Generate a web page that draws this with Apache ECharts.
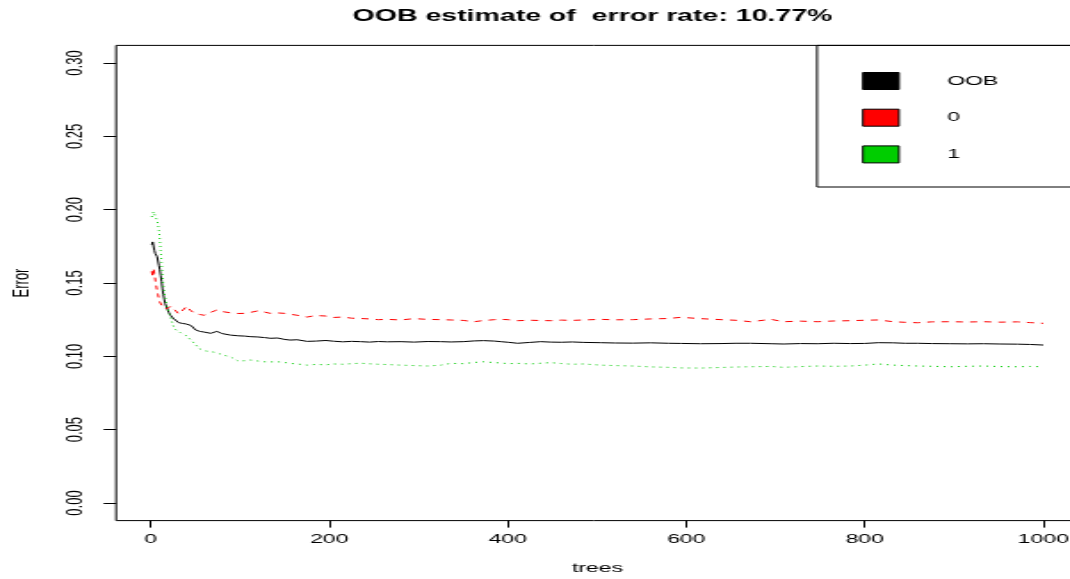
<!DOCTYPE html>
<html>
<head>
<meta charset="utf-8">
<script src="https://cdn.jsdelivr.net/npm/echarts@6/dist/echarts.min.js"></script>
<style>
  html, body { margin: 0; padding: 0; background: #fff; overflow: hidden; }
  /* the plot is laid out on a narrower device and widened horizontally */
  #chart { width: 601px; height: 579px; transform: scaleX(1.7804); transform-origin: 0 0; }
</style>
</head>
<body>
<div id="chart"></div>
<script>
// Number of trees at which the error rates are sampled
const trees = [1,2,3,4,5,6,7,8,9,10,11,12,13,14,15,16,18,20,22,25,28,31,35,40,45,50,55,60,67,74,80,89,98,105,112,120,127,134,142,150,156,164,175,185,196,205,215,225,235,245,255,265,280,295,310,325,336,350,362,373,385,392,400,411,425,437,448,460,472,485,504,520,540,560,580,594,616,639,655,672,695,709,728,747,765,784,800,815,832,845,859,875,896,915,933,952,971,985,1000];

// Out-of-bag error rate
const errOOB = [.176,.178,.177,.172,.170,.169,.168,.165,.162,.159,.155,.151,.146,.142,.139,.136,.133,.130,.128,.126,.125,.123,.1225,.122,.121,.118,.117,.1165,.1157,.117,.1155,.1145,.114,.1138,.1134,.1132,.1128,.1123,.1125,.1115,.1111,.1113,.1102,.1104,.1108,.1103,.1099,.1102,.1100,.1097,.1101,.1099,.1100,.1097,.1101,.1100,.1098,.1100,.1105,.1107,.1104,.1100,.1096,.1089,.1095,.1100,.1097,.1096,.1098,.1095,.1093,.1091,.1090,.1092,.1089,.1088,.1086,.1087,.1089,.1089,.1086,.1084,.1087,.1086,.1089,.1087,.1088,.1093,.1092,.1089,.1089,.1087,.1086,.1085,.1086,.1084,.1083,.1081,.1077];

// Class "0" error rate
const err0 = [.158,.154,.160,.156,.152,.148,.145,.142,.1395,.137,.136,.135,.134,.133,.1335,.133,.1325,.133,.134,.134,.131,.129,.131,.134,.131,.129,.1285,.128,.130,.1316,.1305,.1297,.1292,.1293,.1300,.1310,.1302,.1293,.1296,.1293,.1287,.1280,.1268,.1278,.1275,.1265,.1268,.1260,.1258,.1255,.1250,.1252,.1248,.1257,.1252,.1250,.1248,.1245,.1236,.1244,.1250,.1252,.1250,.1243,.1246,.1244,.1243,.1247,.1245,.1248,.1252,.1249,.1250,.1255,.1258,.1266,.1257,.1250,.1246,.1236,.1252,.1236,.1240,.1236,.1241,.1243,.1246,.1248,.1236,.1232,.1229,.1235,.1236,.1234,.1236,.1233,.1235,.1230,.1225];

// Class "1" error rate
const err1 = [.195,.197,.1986,.197,.195,.194,.193,.190,.186,.180,.172,.164,.155,.1485,.144,.1407,.134,.130,.127,.121,.118,.1168,.1155,.114,.111,.108,.105,.1038,.1032,.1025,.101,.0997,.0968,.0970,.0975,.0968,.0963,.0962,.0963,.0958,.0952,.0948,.0940,.0945,.0942,.0948,.0946,.0950,.0953,.0949,.0946,.0944,.0940,.0937,.0934,.0940,.0952,.0950,.0958,.0963,.0957,.0955,.0950,.0952,.0948,.0953,.0957,.0951,.0946,.0948,.0940,.0937,.0934,.0928,.0925,.0921,.0920,.0924,.0927,.0929,.0931,.0925,.0930,.0934,.0932,.0934,.0940,.0948,.0940,.0937,.0934,.0932,.0929,.0932,.0934,.0930,.0929,.0931,.0929];

const xTicks = [0, 200, 400, 600, 800, 1000];
const yTicks = [0, 0.05, 0.10, 0.15, 0.20, 0.25, 0.30];
const seriesNames = ['OOB', '0', '1'];
const titleText = 'OOB estimate of  error rate: 10.77%';

const FONT = '"Liberation Sans", Arial, sans-serif';
const pairs = (ys) => trees.map((t, i) => [t, ys[i]]);

const chart = echarts.init(document.getElementById('chart'), null, { renderer: 'canvas' });
chart.setOption({
  animation: false,
  backgroundColor: '#fff',
  textStyle: { fontFamily: FONT },
  grid: {
    left: 65.2, right: -5, top: 45.4, bottom: 58.4,
    outerBoundsMode: 'none', containLabel: false,
    show: true, borderColor: '#000', borderWidth: 1, backgroundColor: 'transparent'
  },
  xAxis: {
    type: 'value', min: -38.96, max: 1039.96,
    name: 'trees', nameLocation: 'middle', nameGap: 41,
    nameTextStyle: { fontFamily: FONT, fontSize: 13, color: '#000' },
    axisLine: { show: false, onZero: false },
    axisTick: { show: true, customValues: xTicks, length: 7, lineStyle: { color: '#000' } },
    axisLabel: {
      customValues: xTicks, margin: 12, fontFamily: FONT, fontSize: 13, color: '#000',
      formatter: (v) => String(v)
    },
    splitLine: { show: false }
  },
  yAxis: {
    type: 'value', min: -0.012, max: 0.312,
    name: 'Error', nameLocation: 'middle', nameGap: 46.5,
    nameTextStyle: { fontFamily: FONT, fontSize: 13, color: '#000' },
    axisLine: { show: false, onZero: false },
    axisTick: { show: true, customValues: yTicks, length: 7, lineStyle: { color: '#000' } },
    axisLabel: {
      customValues: yTicks, rotate: 90, margin: 16,
      fontFamily: FONT, fontSize: 13, color: '#000',
      formatter: (v) => v.toFixed(2)
    },
    splitLine: { show: false }
  },
  legend: {
    orient: 'vertical', left: 484.2, top: 72, padding: 0,
    icon: 'rect', itemWidth: 20.2, itemHeight: 17, itemGap: 18.7,
    itemStyle: { borderColor: '#000', borderWidth: 1 },
    textStyle: { fontFamily: FONT, fontSize: 13, color: '#000', lineHeight: 17, padding: [0, 0, 0, 22] },
    data: seriesNames
  },
  graphic: [
    {
      type: 'rect', silent: true, z: 10,
      shape: { x: 458.9, y: 45.4, width: 160, height: 141.6 },
      style: { fill: 'transparent', stroke: '#000', lineWidth: 1 }
    },
    {
      type: 'text', silent: true, x: 332.8, y: 16.5,
      style: {
        text: titleText, fill: '#000', align: 'center', verticalAlign: 'middle',
        font: 'bold 16px ' + FONT
      }
    }
  ],
  series: [
    {
      name: seriesNames[0], type: 'line', symbol: 'none', data: pairs(errOOB),
      itemStyle: { color: '#000000' }, lineStyle: { color: '#000000', width: 1, type: 'solid' }
    },
    {
      name: seriesNames[1], type: 'line', symbol: 'none', data: pairs(err0),
      itemStyle: { color: '#FF0000' }, lineStyle: { color: '#FF0000', width: 1, type: [4, 4] }
    },
    {
      name: seriesNames[2], type: 'line', symbol: 'none', data: pairs(err1),
      itemStyle: { color: '#00CD00' }, lineStyle: { color: '#00CD00', width: 1, type: [1, 3] }
    }
  ]
});
</script>
</body>
</html>
